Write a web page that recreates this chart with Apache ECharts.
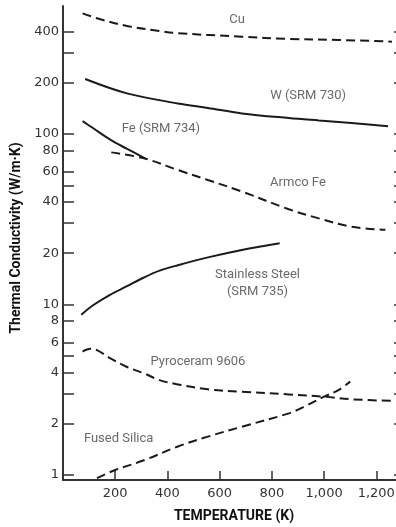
<!DOCTYPE html>
<html>
<head>
<meta charset="utf-8">
<script src="https://cdn.jsdelivr.net/npm/echarts@6/dist/echarts.min.js"></script>
<style>
  html, body { margin: 0; padding: 0; background: #fff; }
  #chart { width: 396px; height: 527px; }
</style>
</head>
<body>
<div id="chart"></div>
<script>
// curve data: [temperature K, conductivity W/m·K]
const cu = [[75, 510], [140, 472], [245, 430], [370, 402], [440, 390], [685, 372], [860, 361], [1055, 356], [1260, 348]];
const tungsten = [[85, 210], [245, 173], [440, 151], [555, 142], [685, 132], [865, 124], [980, 120], [1105, 116], [1245, 111]];
const feSrm = [[75, 119], [116, 108], [184, 92], [244, 82], [314, 72]];
const armcoFe = [[185, 78], [310, 72], [440, 61.5], [555, 53.7], [685, 46], [865, 36.2], [980, 32], [1105, 28.6], [1235, 27.4]];
const stainless = [[70, 8.7], [115, 9.9], [180, 11.4], [245, 12.8], [310, 14.4], [370, 15.8], [440, 17], [555, 18.9], [685, 20.9], [830, 22.9]];
const pyroceram = [[75, 5.3], [105, 5.5], [130, 5.4], [180, 4.85], [245, 4.3], [310, 3.95], [370, 3.6], [440, 3.4], [555, 3.18], [685, 3.08], [865, 2.97], [1000, 2.88], [1105, 2.78], [1270, 2.72]];
const fusedSilica = [[130, 0.96], [200, 1.07], [310, 1.22], [440, 1.47], [555, 1.68], [685, 1.92], [865, 2.3], [925, 2.52], [1000, 2.88], [1055, 3.15], [1100, 3.53]];

// curve labels placed in data coordinates
const curveLabels = [
  ['Cu', 667, 466],
  ['W (SRM 730)', 939, 167],
  ['Fe (SRM 734)', 375, 108],
  ['Armco Fe', 900, 51.6],
  ['Stainless Steel\n(SRM 735)', 745, 13.3],
  ['Pyroceram 9606', 517, 4.6],
  ['Fused Silica', 213, 1.63]
];

// axis ticks
const xTicks = [200, 400, 600, 800, 1000, 1200];
const yLabels = [1, 2, 4, 6, 8, 10, 20, 40, 60, 80, 100, 200, 400];
const yTicks = [1, 2, 3, 4, 5, 6, 8, 10, 20, 30, 40, 50, 60, 80, 100, 200, 300, 400];

const ink = '#1a1a1a';

const line = (data, dashed) => ({
  type: 'line',
  data,
  symbol: 'none',
  smooth: 0.35,
  silent: true,
  lineStyle: {
    color: ink,
    width: 2,
    type: dashed ? [9, 5] : 'solid'
  }
});

const yAxisBase = {
  type: 'log',
  min: 0.935,
  max: 563,
  splitLine: { show: false },
  axisTick: {
    inside: true,
    length: 11,
    customValues: yTicks,
    lineStyle: { color: '#333', width: 1.5 }
  }
};

let chart = echarts.init(document.getElementById('chart'));
chart.setOption({
  animation: false,
  backgroundColor: '#fff',
  grid: {
    left: 63,
    top: 6,
    width: 342,
    height: 474,
    outerBoundsMode: 'none'
  },
  xAxis: {
    type: 'value',
    min: 0,
    max: 1310,
    name: 'TEMPERATURE (K)',
    nameLocation: 'middle',
    nameGap: 29,
    nameTextStyle: {
      fontFamily: 'Roboto',
      fontWeight: 'bold',
      fontSize: 14,
      color: '#111'
    },
    splitLine: { show: false },
    axisLine: { lineStyle: { color: '#333', width: 2 } },
    axisTick: {
      inside: true,
      length: 9,
      customValues: xTicks,
      lineStyle: { color: '#333', width: 1.5 }
    },
    axisLabel: {
      customValues: xTicks,
      margin: 7,
      fontFamily: 'DejaVu Sans',
      fontSize: 13,
      color: '#333',
      formatter: (v) => v >= 1000 ? Math.floor(v / 1000) + ',' + String(v % 1000).padStart(3, '0') : String(v)
    }
  },
  yAxis: [
    Object.assign({}, yAxisBase, {
      position: 'left',
      name: 'Thermal Conductivity (W/m·K)',
      nameLocation: 'middle',
      nameGap: 31,
      nameRotate: 90,
      nameTextStyle: {
        fontFamily: 'Roboto',
        fontWeight: 'bold',
        fontSize: 14,
        color: '#111',
        padding: [0, 0, 0, 10]
      },
      axisLine: { show: true, lineStyle: { color: '#333', width: 2 } },
      axisLabel: {
        customValues: yLabels,
        margin: 4,
        fontFamily: 'DejaVu Sans',
        fontSize: 13,
        color: '#333',
        formatter: (v) => String(v)
      }
    }),
    Object.assign({}, yAxisBase, {
      position: 'right',
      axisLine: { show: false },
      axisLabel: { show: false }
    })
  ],
  series: [
    line(cu, true),
    line(tungsten, false),
    line(feSrm, false),
    line(armcoFe, true),
    line(stainless, false),
    line(pyroceram, true),
    line(fusedSilica, true),
    {
      type: 'scatter',
      symbolSize: 0,
      silent: true,
      data: curveLabels.map((d) => ({ name: d[0], value: [d[1], d[2]] })),
      label: {
        show: true,
        position: 'inside',
        formatter: (p) => p.name,
        fontFamily: 'Roboto',
        fontSize: 13,
        lineHeight: 17,
        align: 'center',
        color: '#444'
      }
    }
  ]
});
</script>
</body>
</html>
